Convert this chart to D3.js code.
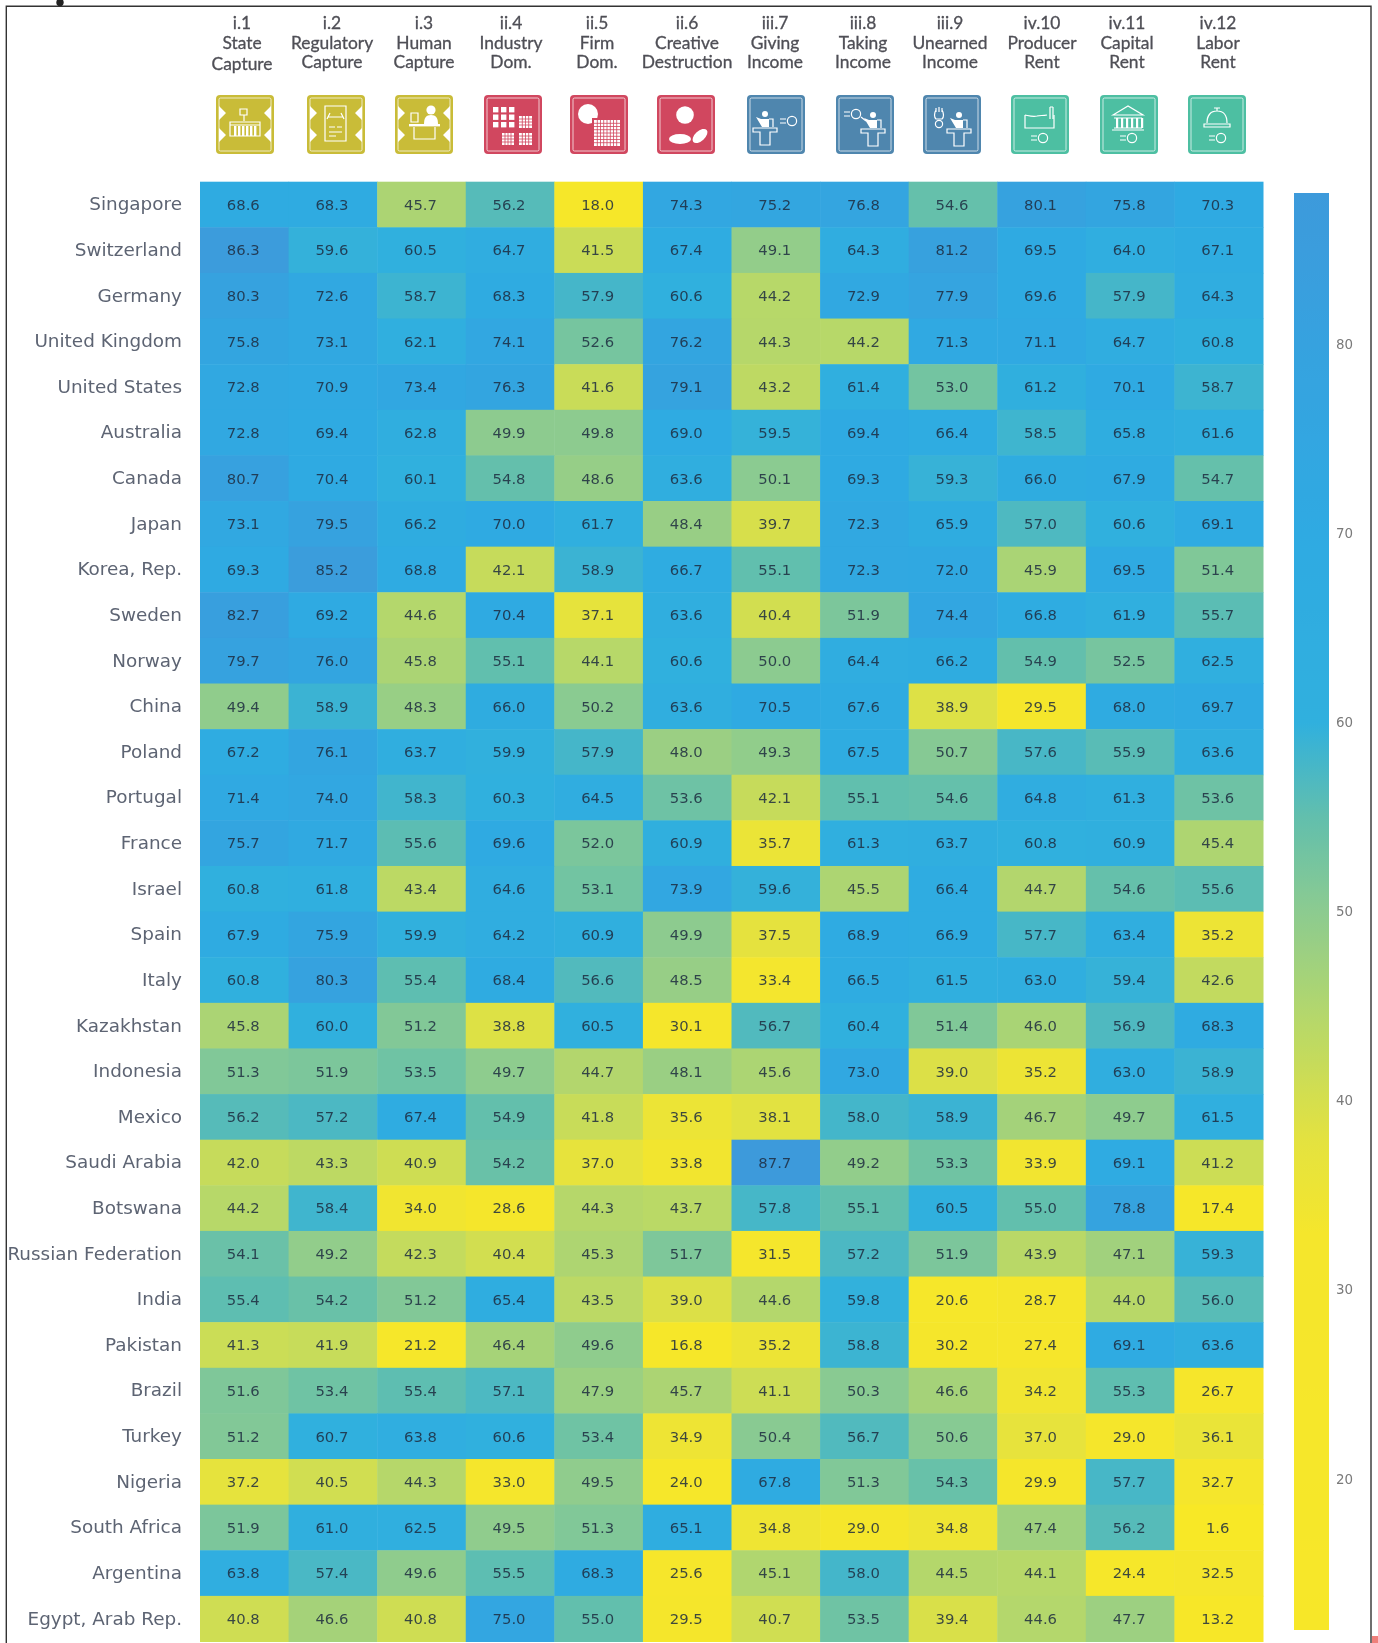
<!DOCTYPE html>
<html>
<head>
<meta charset="utf-8">
<script src="https://cdn.jsdelivr.net/npm/d3@7"></script>
<style>
html, body { margin: 0; padding: 0; background: #fff; }
svg { display: block; filter: blur(0.6px); }
</style>
</head>
<body>
<script>
// row labels, top to bottom
const countries = ["Singapore", "Switzerland", "Germany", "United Kingdom", "United States", "Australia", "Canada", "Japan",
    "Korea, Rep.", "Sweden", "Norway", "China", "Poland", "Portugal", "France", "Israel", "Spain", "Italy", "Kazakhstan",
    "Indonesia", "Mexico", "Saudi Arabia", "Botswana", "Russian Federation", "India", "Pakistan", "Brazil", "Turkey",
    "Nigeria", "South Africa", "Argentina", "Egypt, Arab Rep."];

const codes = ["i.1", "i.2", "i.3", "ii.4", "ii.5", "ii.6", "iii.7", "iii.8", "iii.9", "iv.10", "iv.11", "iv.12"];
const names1 = ["State", "Regulatory", "Human", "Industry", "Firm", "Creative", "Giving", "Taking", "Unearned", "Producer", "Capital", "Labor"];
const names2 = ["Capture", "Capture", "Capture", "Dom.", "Dom.", "Destruction", "Income", "Income", "Income", "Rent", "Rent", "Rent"];

const values = [
    [68.6, 68.3, 45.7, 56.2, 18.0, 74.3, 75.2, 76.8, 54.6, 80.1, 75.8, 70.3],
    [86.3, 59.6, 60.5, 64.7, 41.5, 67.4, 49.1, 64.3, 81.2, 69.5, 64.0, 67.1],
    [80.3, 72.6, 58.7, 68.3, 57.9, 60.6, 44.2, 72.9, 77.9, 69.6, 57.9, 64.3],
    [75.8, 73.1, 62.1, 74.1, 52.6, 76.2, 44.3, 44.2, 71.3, 71.1, 64.7, 60.8],
    [72.8, 70.9, 73.4, 76.3, 41.6, 79.1, 43.2, 61.4, 53.0, 61.2, 70.1, 58.7],
    [72.8, 69.4, 62.8, 49.9, 49.8, 69.0, 59.5, 69.4, 66.4, 58.5, 65.8, 61.6],
    [80.7, 70.4, 60.1, 54.8, 48.6, 63.6, 50.1, 69.3, 59.3, 66.0, 67.9, 54.7],
    [73.1, 79.5, 66.2, 70.0, 61.7, 48.4, 39.7, 72.3, 65.9, 57.0, 60.6, 69.1],
    [69.3, 85.2, 68.8, 42.1, 58.9, 66.7, 55.1, 72.3, 72.0, 45.9, 69.5, 51.4],
    [82.7, 69.2, 44.6, 70.4, 37.1, 63.6, 40.4, 51.9, 74.4, 66.8, 61.9, 55.7],
    [79.7, 76.0, 45.8, 55.1, 44.1, 60.6, 50.0, 64.4, 66.2, 54.9, 52.5, 62.5],
    [49.4, 58.9, 48.3, 66.0, 50.2, 63.6, 70.5, 67.6, 38.9, 29.5, 68.0, 69.7],
    [67.2, 76.1, 63.7, 59.9, 57.9, 48.0, 49.3, 67.5, 50.7, 57.6, 55.9, 63.6],
    [71.4, 74.0, 58.3, 60.3, 64.5, 53.6, 42.1, 55.1, 54.6, 64.8, 61.3, 53.6],
    [75.7, 71.7, 55.6, 69.6, 52.0, 60.9, 35.7, 61.3, 63.7, 60.8, 60.9, 45.4],
    [60.8, 61.8, 43.4, 64.6, 53.1, 73.9, 59.6, 45.5, 66.4, 44.7, 54.6, 55.6],
    [67.9, 75.9, 59.9, 64.2, 60.9, 49.9, 37.5, 68.9, 66.9, 57.7, 63.4, 35.2],
    [60.8, 80.3, 55.4, 68.4, 56.6, 48.5, 33.4, 66.5, 61.5, 63.0, 59.4, 42.6],
    [45.8, 60.0, 51.2, 38.8, 60.5, 30.1, 56.7, 60.4, 51.4, 46.0, 56.9, 68.3],
    [51.3, 51.9, 53.5, 49.7, 44.7, 48.1, 45.6, 73.0, 39.0, 35.2, 63.0, 58.9],
    [56.2, 57.2, 67.4, 54.9, 41.8, 35.6, 38.1, 58.0, 58.9, 46.7, 49.7, 61.5],
    [42.0, 43.3, 40.9, 54.2, 37.0, 33.8, 87.7, 49.2, 53.3, 33.9, 69.1, 41.2],
    [44.2, 58.4, 34.0, 28.6, 44.3, 43.7, 57.8, 55.1, 60.5, 55.0, 78.8, 17.4],
    [54.1, 49.2, 42.3, 40.4, 45.3, 51.7, 31.5, 57.2, 51.9, 43.9, 47.1, 59.3],
    [55.4, 54.2, 51.2, 65.4, 43.5, 39.0, 44.6, 59.8, 20.6, 28.7, 44.0, 56.0],
    [41.3, 41.9, 21.2, 46.4, 49.6, 16.8, 35.2, 58.8, 30.2, 27.4, 69.1, 63.6],
    [51.6, 53.4, 55.4, 57.1, 47.9, 45.7, 41.1, 50.3, 46.6, 34.2, 55.3, 26.7],
    [51.2, 60.7, 63.8, 60.6, 53.4, 34.9, 50.4, 56.7, 50.6, 37.0, 29.0, 36.1],
    [37.2, 40.5, 44.3, 33.0, 49.5, 24.0, 67.8, 51.3, 54.3, 29.9, 57.7, 32.7],
    [51.9, 61.0, 62.5, 49.5, 51.3, 65.1, 34.8, 29.0, 34.8, 47.4, 56.2, 1.6],
    [63.8, 57.4, 49.6, 55.5, 68.3, 25.6, 45.1, 58.0, 44.5, 44.1, 24.4, 32.5],
    [40.8, 46.6, 40.8, 75.0, 55.0, 29.5, 40.7, 53.5, 39.4, 44.6, 47.7, 13.2]
];

const legendTicks = [20, 30, 40, 50, 60, 70, 80];

// colour stops
const colorDomain = [0, 33, 38, 44, 50, 55, 60, 70, 80, 90];
const colorRange = ["#f8e826", "#f5e62c", "#e3e240", "#b8d868", "#8ccb90", "#62bfad", "#30b0de", "#2faae2", "#36a2df", "#3f98da"];

const width = 1378, height = 1643;
const color = d3.scaleLinear().domain(colorDomain).range(colorRange);

const svg = d3.select("body").append("svg")
    .attr("width", width)
    .attr("height", height);

svg.append("rect").attr("width", width).attr("height", height).attr("fill", "#fff");

// heatmap
const x = d3.scaleBand().domain(d3.range(codes.length)).range([200, 1263]);
const y = d3.scaleBand().domain(countries).range([181.7, 1641.5]);

const rows = svg.append("g").selectAll("g")
    .data(values)
    .enter()
    .append("g")
    .attr("transform", (d, i) => `translate(0,${y(countries[i])})`);

rows.selectAll("rect")
    .data(d => d)
    .enter()
    .append("rect")
    .attr("x", (d, i) => x(i))
    .attr("width", x.bandwidth() + 0.5)
    .attr("height", y.bandwidth() + 0.5)
    .attr("fill", d => color(d));

rows.selectAll("text")
    .data(d => d)
    .enter()
    .append("text")
    .attr("x", (d, i) => x(i) + x.bandwidth() / 2 - 1)
    .attr("y", y.bandwidth() / 2)
    .attr("dy", "0.36em")
    .attr("text-anchor", "middle")
    .attr("font-family", "'DejaVu Sans'")
    .attr("font-size", 14.8)
    .attr("fill", "#1d2b3f")
    .attr("fill-opacity", 0.85)
    .text(d => d.toFixed(1));

// country labels
const yAxis = svg.append("g")
    .attr("transform", "translate(200,0)")
    .call(d3.axisLeft(y).tickSize(0).tickPadding(18));
yAxis.select(".domain").remove();
yAxis.selectAll("text")
    .attr("font-family", "'DejaVu Sans'")
    .attr("font-size", 18.4)
    .attr("fill", "#5d6473");

// legend
const legendScale = d3.scaleLinear().domain([88, 12]).range([193, 1630]);
const defs = svg.append("defs");
const grad = defs.append("linearGradient")
    .attr("id", "legend-grad")
    .attr("x1", 0).attr("x2", 0).attr("y1", 0).attr("y2", 1);
d3.range(88, 11, -1).forEach(v => {
    grad.append("stop")
        .attr("offset", (88 - v) / 76)
        .attr("stop-color", color(v));
});
svg.append("rect")
    .attr("x", 1294)
    .attr("y", legendScale(88))
    .attr("width", 35)
    .attr("height", legendScale(12) - legendScale(88))
    .attr("fill", "url(#legend-grad)");

const legendAxis = svg.append("g")
    .attr("transform", "translate(1329,0)")
    .call(d3.axisRight(legendScale).tickValues(legendTicks).tickSize(0).tickPadding(7));
legendAxis.select(".domain").remove();
legendAxis.selectAll("text")
    .attr("font-family", "'DejaVu Sans'")
    .attr("font-size", 13.4)
    .attr("fill", "#7a7a7a");

// column headers (the centres wander a little in the original)
const headX = [242, 332, 424, 511, 597, 687, 775, 863, 950, 1042, 1127, 1218];
const head = svg.append("g")
    .attr("font-family", "Lato")
    .attr("font-size", 17.4)
    .attr("text-anchor", "middle")
    .attr("fill", "#4f4f56")
    .attr("stroke", "#4f4f56")
    .attr("stroke-width", 0.3);
codes.forEach((c, i) => {
    const g = head.append("g").attr("transform", `translate(${headX[i]},0)`);
    g.append("text").attr("y", 29).text(c);
    g.append("text").attr("y", 49).text(names1[i]);
    g.append("text").attr("y", i == 0 ? 70 : 68).text(names2[i]);
});

// icons
const iconX = [216, 307, 395, 484, 570, 657, 747, 836, 923, 1011, 1100, 1188];
const gold = "#c9bc38", red = "#d1475f", blue = "#4f86ae", teal = "#4dbfa2";
const iconColor = [gold, gold, gold, red, red, red, blue, blue, blue, teal, teal, teal];

function line(g, d, w) {
    return g.append("path").attr("d", d).attr("fill", "none").attr("stroke", "#fff").attr("stroke-width", w || 1.2);
}
function fillPath(g, d) {
    return g.append("path").attr("d", d).attr("fill", "#fff");
}
function dot(g, cx, cy, r) {
    return g.append("circle").attr("cx", cx).attr("cy", cy).attr("r", r).attr("fill", "#fff");
}
function ring(g, cx, cy, r) {
    return g.append("circle").attr("cx", cx).attr("cy", cy).attr("r", r)
        .attr("fill", "none").attr("stroke", "#fff").attr("stroke-width", 1.2);
}
// small white lattice, used by the dominance icons
function lattice(g, x0, y0, w, h, n) {
    g.append("rect").attr("x", x0).attr("y", y0).attr("width", w).attr("height", h).attr("fill", "#fff");
    d3.range(1, n).forEach(k => {
        g.append("rect").attr("x", x0 + k * w / n - 0.4).attr("y", y0).attr("width", 0.8).attr("height", h).attr("fill", red);
        g.append("rect").attr("x", x0).attr("y", y0 + k * h / n - 0.4).attr("width", w).attr("height", 0.8).attr("fill", red);
    });
}
function equalsRing(g, x0, y0) {
    line(g, `M${x0},${y0 - 2}h6M${x0},${y0 + 2}h6`);
    ring(g, x0 + 12, y0, 4.6);
}
function speaker(g, cx, cy) {
    dot(g, cx, cy - 7, 3);
    fillPath(g, `M${cx - 9},${cy - 4}L${cx - 4},${cy - 2}H${cx + 4}V${cy + 6}H${cx - 3}Z`);
    line(g, `M${cx + 4},${cy - 2}h4v8`);
    line(g, `M${cx - 12},${cy + 7}H${cx + 12}V${cy + 11}H${cx + 5}V${cy + 24}H${cx - 5}V${cy + 11}H${cx - 12}Z`);
}

const glyphs = [
    g => {
        line(g, "M24,14h7v6h-7zM28,20v6M14,27h30v14h-30zM14,30h30");
        d3.range(18, 42, 4).forEach(v => g.append("rect").attr("x", v).attr("y", 31).attr("width", 2.4).attr("height", 10).attr("fill", "#fff"));
    },
    g => {
        line(g, "M18,11h21v35h-21z");
        line(g, "M21,22h15M23,18l-3,6M34,18l3,6M22,32h6M30,32h5M22,37h13M22,41h7");
    },
    g => {
        dot(g, 36, 15, 4.6);
        fillPath(g, "M29,29c0,-6 2,-9 7,-9s7,3 7,9z");
        line(g, "M16,18h7v9h-7z");
        fillPath(g, "M14,29h31v2.4h-31z");
        line(g, "M19,32v12h21v-12");
    },
    g => {
        d3.range(3).forEach(r => d3.range(3).forEach(c => {
            g.append("rect").attr("x", 9 + c * 8).attr("y", 12 + r * 7.5).attr("width", 5.4).attr("height", 5.4).attr("fill", "#fff");
        }));
        lattice(g, 35, 21, 13, 12, 4);
        lattice(g, 18, 38, 12, 12, 4);
        lattice(g, 35, 38, 13, 12, 4);
    },
    g => {
        dot(g, 18, 19, 10);
        g.append("rect").attr("x", 22).attr("y", 23).attr("width", 29).attr("height", 29).attr("fill", red);
        lattice(g, 24, 25, 26, 26, 8);
    },
    g => {
        dot(g, 28, 20, 8.8);
        g.append("ellipse").attr("cx", 23).attr("cy", 44).attr("rx", 11).attr("ry", 5).attr("fill", "#fff");
        g.append("ellipse").attr("cx", 43).attr("cy", 41).attr("rx", 9).attr("ry", 5)
            .attr("transform", "rotate(-42 43 41)").attr("fill", "#fff");
    },
    g => { speaker(g, 18, 26); equalsRing(g, 33, 26); },
    g => { speaker(g, 37, 27); equalsRing(g, 8, 19); line(g, "M25,22l5,4"); },
    g => {
        speaker(g, 36, 27);
        line(g, "M13,15c-2,3 -2,7 0,9h6c2,-2 2,-6 0,-9M13,17v-4M16,17v-5M19,17v-4");
        ring(g, 16, 29, 3.6);
    },
    g => {
        line(g, "M14,20v13h29v-13M14,20c5,1 8,2 12,1c3,-1 6,0 10,-1");
        line(g, "M39,12v12M42,12v12M39,12h3");
        equalsRing(g, 20, 43);
    },
    g => {
        line(g, "M13,20L28,11L43,20zM14,23h28M14,33h28M12,35h32");
        d3.range(16, 42, 5).forEach(v => g.append("rect").attr("x", v).attr("y", 23).attr("width", 2.2).attr("height", 10).attr("fill", "#fff"));
        equalsRing(g, 20, 43);
    },
    g => {
        line(g, "M19,28c0,-8 4,-12 10,-12s10,4 10,12M29,13v3M26,13h6");
        line(g, "M16,29h26v3h-26z");
        equalsRing(g, 21, 43);
    }
];

iconX.forEach((ix, i) => {
    const g = svg.append("g").attr("transform", `translate(${ix},95)`);
    g.append("rect").attr("width", 58).attr("height", 59).attr("rx", 4).attr("fill", iconColor[i]);
    g.append("rect").attr("x", 3).attr("y", 3).attr("width", 52).attr("height", 53).attr("rx", 1.5)
        .attr("fill", "none").attr("stroke", "#fff").attr("stroke-opacity", 0.7).attr("stroke-width", 1);
    if (i < 3) {
        // gold icons have scalloped sides
        fillPath(g, "M3,11L10,18L3,25zM3,33L10,40L3,47zM55,11L48,18L55,25zM55,33L48,40L55,47z");
    }
    glyphs[i](g);
});

// scan leftovers: page frame, dot and corner
svg.append("path")
    .attr("d", `M6.3,${height}V6.3H1371V${height}`)
    .attr("fill", "none")
    .attr("stroke", "#333")
    .attr("stroke-width", 1.4);
svg.append("circle").attr("cx", 60).attr("cy", 2.5).attr("r", 3.7).attr("fill", "#222");
svg.append("rect").attr("x", 1372).attr("y", 1636).attr("width", 6).attr("height", 7).attr("fill", "#ef7f7a");
</script>
</body>
</html>
